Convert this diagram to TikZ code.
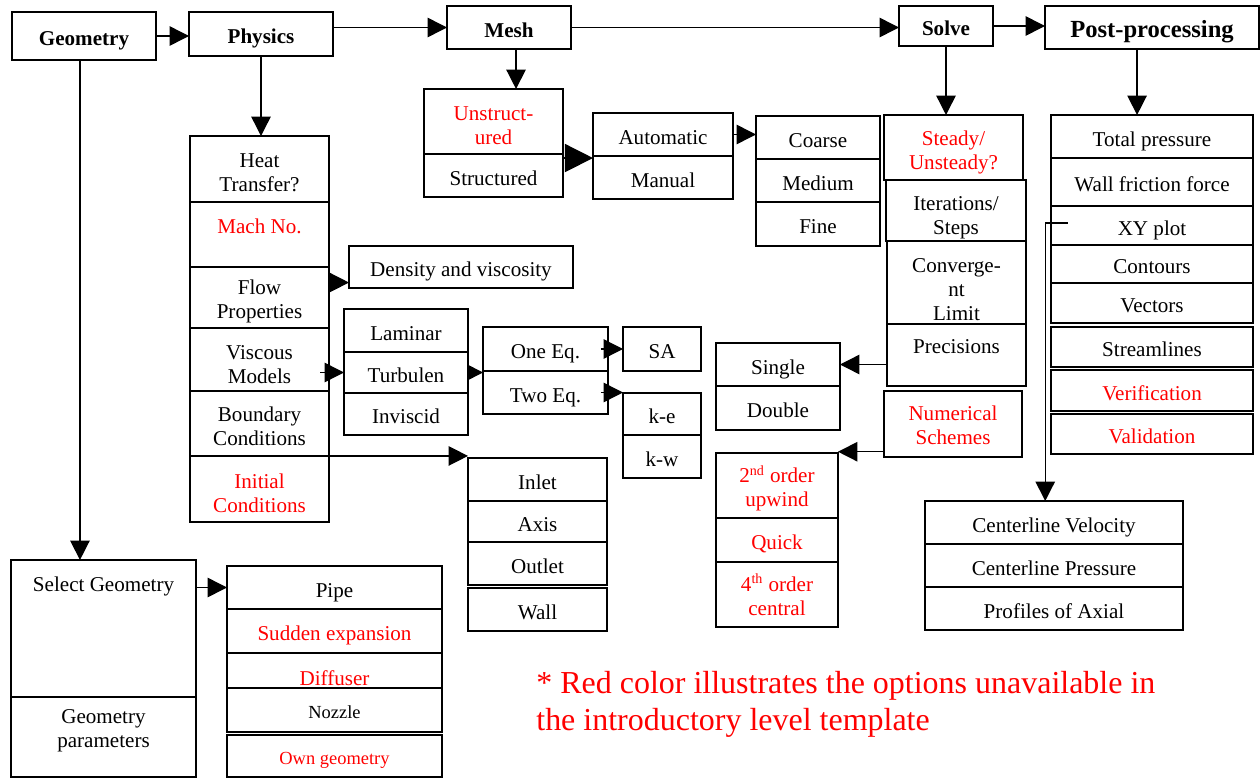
\documentclass[tikz,border=0pt]{standalone}
\usepackage{fontspec}
\setmainfont{Liberation Serif}
\usepackage{tikz}
\usetikzlibrary{arrows.meta, positioning}
\tikzstyle{cell} = [rectangle, draw, line width=0.8pt, align=center, inner sep=1pt, outer sep=0pt, text height=11pt, text depth=0pt, font=\fontsize{12}{13.6}\selectfont]
\tikzstyle{head} = [cell, font=\fontsize{12}{13.6}\selectfont\bfseries]
\tikzstyle{redcell} = [cell, text=red]
\tikzstyle{smallcell} = [cell, text height=9.5pt, font=\fontsize{10.5}{12}\selectfont]
\tikzstyle{arrow} = [line width=0.8pt, -{Triangle[length=11pt, width=11pt]}]
\tikzstyle{shortarrow} = [line width=0.8pt, -{Triangle[length=8pt, width=8pt]}]
\tikzstyle{bigarrow} = [line width=0.8pt, -{Triangle[length=16pt, width=16pt]}]

\begin{document}
\begin{tikzpicture}[x=0.02cm, y=-0.02cm, node distance=0pt]
        \useasboundingbox (0,0) rectangle (1260,778);

        % Main steps
        \node (geo) [head, minimum width=2.88cm, minimum height=0.96cm] at (84,36) {Geometry};
        \node (phys) [head, minimum width=2.88cm, minimum height=0.88cm] at (261,34) {Physics};
        \node (mesh) [head, minimum width=2.48cm, minimum height=0.86cm] at (509,27.5) {Mesh};
        \node (solve) [head, minimum width=1.88cm, minimum height=0.80cm] at (946,26) {Solve};
        \node (post) [head, font=\fontsize{14}{16}\selectfont\bfseries, minimum width=4.28cm, minimum height=0.86cm] at (1152,27.5) {Post-processing};

        % Physics options
        \node (heat) [cell, minimum width=2.78cm, minimum height=1.32cm, text height=25.2pt, anchor=north] at (259.5,136) {Heat\\Transfer?};
        \node (mach) [redcell, minimum width=2.78cm, minimum height=1.30cm, text depth=12.1pt, below=of heat] {Mach No.};
        \node (flow) [cell, minimum width=2.78cm, minimum height=1.22cm, text height=23.8pt, below=of mach] {Flow\\Properties};
        \node (visc) [cell, minimum width=2.78cm, minimum height=1.26cm, text height=26.9pt, below=of flow] {Viscous\\Models};
        \node (bound) [cell, minimum width=2.78cm, minimum height=1.30cm, text height=25.2pt, below=of visc] {Boundary\\Conditions};
        \node (init) [redcell, minimum width=2.78cm, minimum height=1.32cm, text height=26.4pt, below=of bound] {Initial\\Conditions};

        \node (dens) [cell, minimum width=4.48cm, minimum height=0.84cm] at (461,267) {Density and viscosity};
        \node (lam) [cell, minimum width=2.48cm, minimum height=0.86cm, anchor=north] at (406,309) {Laminar};
        \node (turb) [cell, minimum width=2.48cm, minimum height=0.82cm, below=of lam] {Turbulen};
        \node (invis) [cell, minimum width=2.48cm, minimum height=0.84cm, below=of turb] {Inviscid};
        \node (one) [cell, minimum width=2.50cm, minimum height=0.88cm, anchor=north] at (545.5,327) {One Eq.};
        \node (two) [cell, minimum width=2.50cm, minimum height=0.86cm, below=of one] {Two Eq.};
        \node (sa) [cell, minimum width=1.56cm, minimum height=0.88cm, anchor=north] at (662,327) {SA};
        \node (ke) [cell, minimum width=1.56cm, minimum height=0.84cm, anchor=north] at (662,393) {k-e};
        \node (kw) [cell, minimum width=1.56cm, minimum height=0.86cm, below=of ke] {k-w};

        \node (inlet) [cell, minimum width=2.78cm, minimum height=0.86cm, anchor=north] at (537.5,458) {Inlet};
        \node (axis) [cell, minimum width=2.78cm, minimum height=0.82cm, below=of inlet] {Axis};
        \node (outlet) [cell, minimum width=2.78cm, minimum height=0.86cm, below=of axis] {Outlet};
        \node (wall) [cell, minimum width=2.78cm, minimum height=0.86cm, below=0.06cm of outlet] {Wall};

        % Mesh options
        \node (unstr) [redcell, minimum width=2.78cm, minimum height=1.30cm, text height=26.4pt, anchor=north] at (493.5,89) {Unstruct-\\ured};
        \node (str) [cell, minimum width=2.78cm, minimum height=0.86cm, below=of unstr] {Structured};
        \node (autom) [cell, minimum width=2.80cm, minimum height=0.86cm, anchor=north] at (663,113) {Automatic};
        \node (man) [cell, minimum width=2.80cm, minimum height=0.86cm, below=of autom] {Manual};
        \node (coarse) [cell, minimum width=2.48cm, minimum height=0.86cm, anchor=north] at (818,116) {Coarse};
        \node (medium) [cell, minimum width=2.48cm, minimum height=0.86cm, below=of coarse] {Medium};
        \node (fine) [cell, minimum width=2.48cm, minimum height=0.88cm, below=of medium] {Fine};

        % Solver options
        \node (steady) [redcell, minimum width=2.78cm, minimum height=1.30cm, text height=24.8pt, anchor=north] at (953.5,115) {Steady/\\Unsteady?};
        \node (iter) [cell, minimum width=2.80cm, minimum height=1.22cm, text height=27.2pt, anchor=north] at (956,180) {Iterations/\\Steps};
        \node (conv) [cell, minimum width=2.78cm, minimum height=1.66cm, text height=43.4pt, anchor=north] at (956.5,241) {Converge-\\nt\\Limit};
        \node (prec) [cell, minimum width=2.78cm, minimum height=1.24cm, text depth=12.3pt, below=of conv] {Precisions};
        \node (num) [redcell, minimum width=2.76cm, minimum height=1.32cm, text height=23pt, anchor=north] at (953,391) {Numerical\\Schemes};
        \node (single) [cell, minimum width=2.48cm, minimum height=0.86cm, anchor=north] at (778,343) {Single};
        \node (double) [cell, minimum width=2.48cm, minimum height=0.88cm, below=of single] {Double};
        \node (ord2) [redcell, minimum width=2.44cm, minimum height=1.30cm, text height=24pt, anchor=north] at (777,453) {2\textsuperscript{nd} order\\upwind};
        \node (quick) [redcell, minimum width=2.44cm, minimum height=0.88cm, below=of ord2] {Quick};
        \node (ord4) [redcell, minimum width=2.44cm, minimum height=1.30cm, text height=23.8pt, below=of quick] {4\textsuperscript{th} order\\central};

        % Post-processing options
        \node (total) [cell, minimum width=4.04cm, minimum height=0.86cm, anchor=north] at (1152,115) {Total pressure};
        \node (wallf) [cell, minimum width=4.04cm, minimum height=0.96cm, below=of total] {Wall friction force};
        \node (xy) [cell, minimum width=4.04cm, minimum height=0.78cm, below=of wallf] {XY plot};
        \node (cont) [cell, minimum width=4.04cm, minimum height=0.76cm, below=of xy] {Contours};
        \node (vect) [cell, minimum width=4.04cm, minimum height=0.80cm, below=of cont] {Vectors};
        \node (stream) [cell, minimum width=4.04cm, minimum height=0.80cm, below=0.08cm of vect] {Streamlines};
        \node (verif) [redcell, minimum width=4.04cm, minimum height=0.82cm, below=0.06cm of stream] {Verification};
        \node (valid) [redcell, minimum width=4.04cm, minimum height=0.80cm, below=0.06cm of verif] {Validation};
        \node (cvel) [cell, minimum width=5.16cm, minimum height=0.86cm, anchor=north] at (1054,501) {Centerline Velocity};
        \node (cpres) [cell, minimum width=5.16cm, minimum height=0.86cm, below=of cvel] {Centerline Pressure};
        \node (prof) [cell, minimum width=5.16cm, minimum height=0.86cm, below=of cpres] {Profiles of Axial};

        % Geometry options
        \node (sel) [cell, minimum width=3.70cm, minimum height=2.74cm, text depth=53.1pt, anchor=north] at (103.5,560) {Select Geometry};
        \node (gpar) [cell, minimum width=3.70cm, minimum height=1.60cm, text height=21.8pt, text depth=10pt, below=of sel] {Geometry\\parameters};
        \node (pipe) [cell, minimum width=4.30cm, minimum height=0.86cm, anchor=north] at (334.5,566) {Pipe};
        \node (sudden) [redcell, minimum width=4.30cm, minimum height=0.88cm, below=of pipe] {Sudden expansion};
        \node (diff) [redcell, minimum width=4.30cm, minimum height=0.70cm, text height=17pt, below=of sudden] {Diffuser};
        \node (nozzle) [smallcell, minimum width=4.30cm, minimum height=0.88cm, below=of diff] {Nozzle};
        \node (own) [smallcell, text=red, minimum width=4.30cm, minimum height=0.84cm, below=0.06cm of nozzle] {Own geometry};

        \node (remark) [anchor=west, inner sep=0pt, align=left, text=red, font=\fontsize{18.2}{21}\selectfont] at (536,704) {* Red color illustrates the options unavailable in\\the introductory level template};

        % Arrows
        \draw [arrow] (geo.east) -- (geo.east -| phys.west);
        \draw [arrow] (mesh.west -| phys.east) -- (mesh.west);
        \draw [arrow] (mesh.east) -- (mesh.east -| solve.west);
        \draw [arrow] (solve.east) -- (solve.east -| post.west);

        \draw [arrow] ([xshift=-2.3pt]geo.south) -- ([xshift=-2.3pt]geo.south |- sel.north);
        \draw [arrow] (phys.south) -- (phys.south |- heat.north);
        \draw [arrow] ([xshift=4pt]mesh.south) -- ([xshift=4pt]mesh.south |- unstr.north);
        \draw [arrow] (solve.south) -- (solve.south |- steady.north);
        \draw [arrow] ([xshift=-8.5pt]post.south) -- ([xshift=-8.5pt]post.south |- total.north);

        % Physics branches
        \draw [arrow] ([yshift=8.5pt]flow.east) -- ([yshift=8.5pt]flow.east -| dens.west);
        \draw [arrow] ([xshift=-5pt]visc.east |- turb.west) -- (turb.west);
        \draw [shortarrow] (turb.east) -- (turb.east -| one.west);
        \draw [arrow] ([xshift=-4pt]one.east) -- (one.east -| sa.west);
        \draw [arrow] ([xshift=-4pt]two.east) -- (two.east -| ke.west);
        \draw [arrow] (bound.south east) -- (bound.south east -| inlet.west);

        % Mesh branches
        \draw [bigarrow] ([yshift=-2.3pt]unstr.south east) -- ([yshift=-2.3pt]unstr.south east -| man.west);
        \draw [arrow] (autom.east) -- (autom.east -| coarse.west);

        % Solver branches
        \draw [arrow] (single.east -| prec.west) -- (single.east);
        \draw [arrow] ([yshift=3pt]num.south west) -- ([yshift=3pt]num.south west -| ord2.east);

        % Post-processing branch
        \draw [arrow] ([xshift=9.6pt, yshift=1.4pt]xy.west) -| ([xshift=-5pt]cvel.north);

        % Geometry branch
        \draw [arrow] (pipe.west -| sel.east) -- (pipe.west);
    \end{tikzpicture}
\end{document}
